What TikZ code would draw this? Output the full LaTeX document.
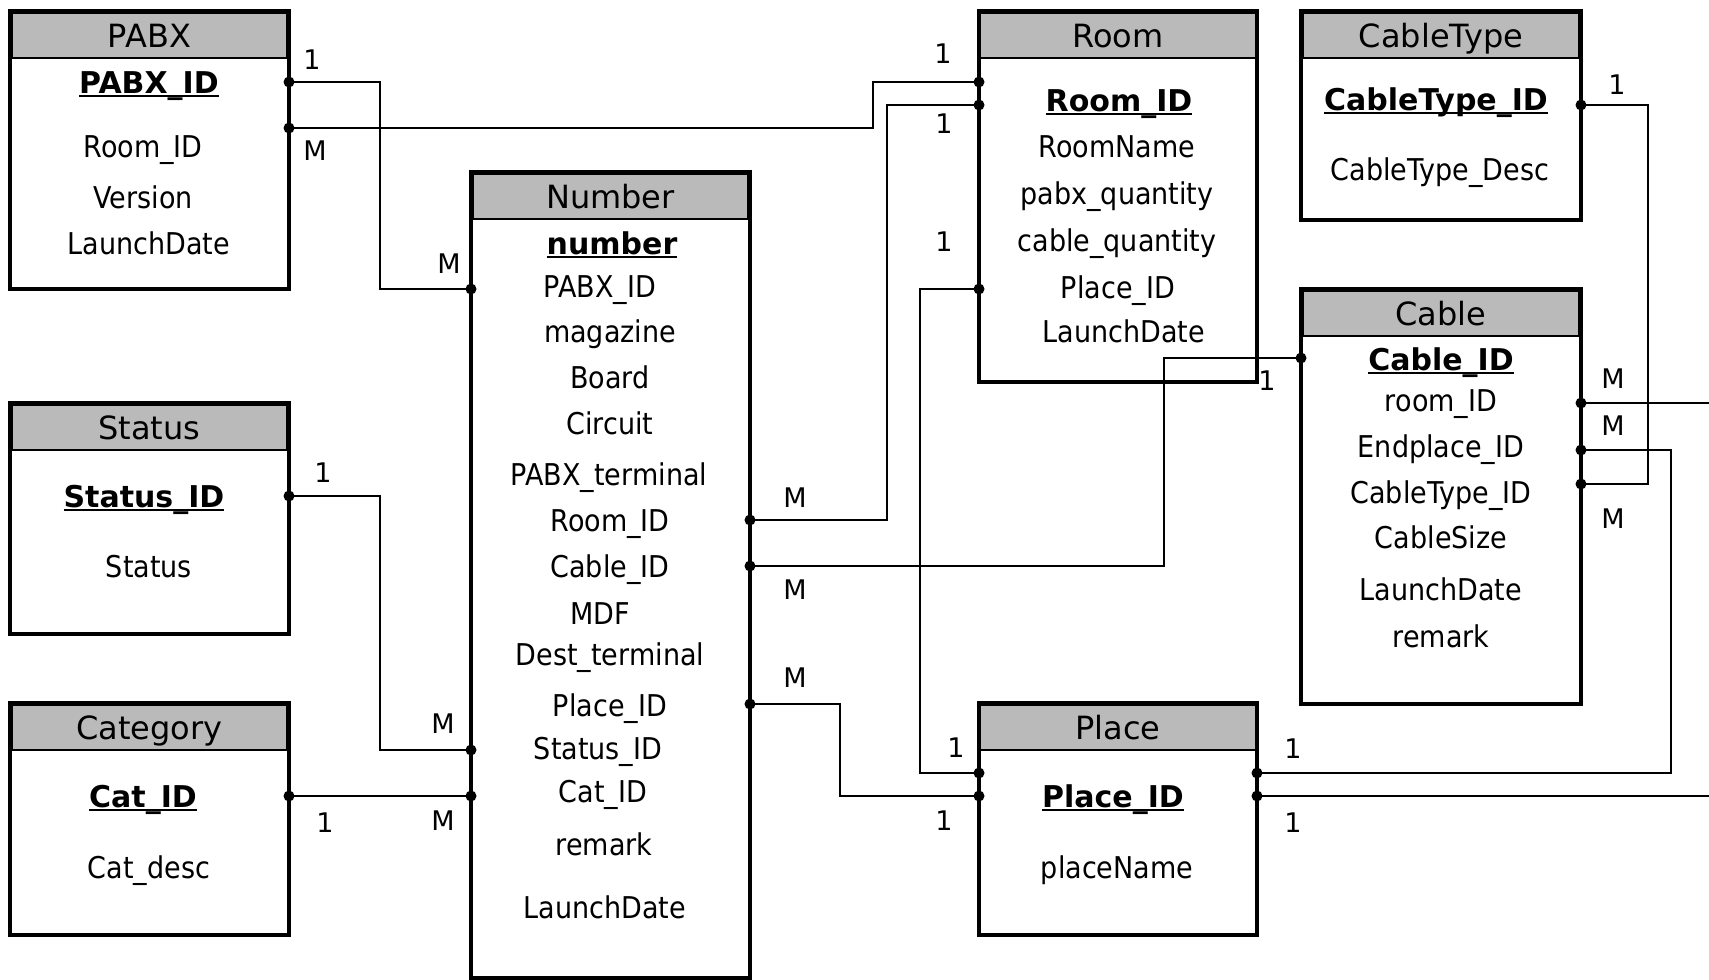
\documentclass[tikz,border=0pt]{standalone}
\usepackage{fontspec}
\setmainfont{DejaVu Sans}[FakeStretch=0.9]
\newfontfamily\keyfont{DejaVu Sans}
\usepackage{xcolor}
\definecolor{hdrgray}{RGB}{186,186,186}
\newcommand{\keyul}[1]{\setbox0=\hbox{#1}\rlap{\rule[-4pt]{\wd0}{2pt}}\box0}

\begin{document}
\begin{tikzpicture}[x=1pt,y=-1pt,
    tbl/.style={draw, line width=4pt, outer sep=0pt, inner sep=0pt},
    hdr/.style={anchor=north, fill=hdrgray, draw, line width=1.5pt, outer sep=0pt, inner sep=0pt,
        minimum width=275pt, minimum height=45pt, text height=23pt, text depth=0pt,
        font=\keyfont\fontsize{32pt}{38pt}\selectfont},
    fld/.style={inner sep=0pt, text height=22pt, text depth=0pt, font=\fontsize{30pt}{36pt}\selectfont},
    key/.style={fld, font=\keyfont\bfseries\fontsize{30pt}{36pt}\selectfont},
    card/.style={inner sep=0pt, text height=20pt, text depth=0pt, font=\keyfont\fontsize{27pt}{32pt}\selectfont},
    link/.style={line width=1.5pt}]
    \useasboundingbox (0,0) rectangle (1709,980);

    % PABX
    \node[tbl, minimum width=279pt, minimum height=278pt] (pabx) at (149.5,150) {};
    \node[hdr] (pabx-h) at ([yshift=-2pt]pabx.north) {PABX};
    \node[key] (pabx-k) at (149,82) {\keyul{PABX\_ID}};
    \node[fld] (pabx-f1) at (143,146) {Room\_ID};
    \node[fld] (pabx-f2) at (143,197) {Version};
    \node[fld] (pabx-f3) at (149,243) {LaunchDate};

    % Status
    \node[tbl, minimum width=279pt, minimum height=231pt] (status) at (149.5,518.5) {};
    \node[hdr] (status-h) at ([yshift=-2pt]status.north) {Status};
    \node[key] (status-k) at (144,496) {\keyul{Status\_ID}};
    \node[fld] (status-f1) at (149,566) {Status};

    % Category
    \node[tbl, minimum width=279pt, minimum height=232pt] (cat) at (149.5,819) {};
    \node[hdr] (cat-h) at ([yshift=-2pt]cat.north) {Category};
    \node[key] (cat-k) at (143,796) {\keyul{Cat\_ID}};
    \node[fld] (cat-f1) at (149,867) {Cat\_desc};

    % Number
    \node[tbl, minimum width=279pt, minimum height=806pt] (num) at (610.5,575) {};
    \node[hdr] (num-h) at ([yshift=-2pt]num.north) {Number};
    \node[key] (num-k) at (612,243) {\keyul{number}};
    \node[fld] (num-f1) at (600,286) {PABX\_ID};
    \node[fld] (num-f2) at (610,331) {magazine};
    \node[fld] (num-f3) at (610,377) {Board};
    \node[fld] (num-f4) at (610,423) {Circuit};
    \node[fld] (num-f5) at (609,474) {PABX\_terminal};
    \node[fld] (num-f6) at (610,520) {Room\_ID};
    \node[fld] (num-f7) at (610,566) {Cable\_ID};
    \node[fld] (num-f8) at (600,613) {MDF};
    \node[fld] (num-f9) at (610,654) {Dest\_terminal};
    \node[fld] (num-f10) at (610,705) {Place\_ID};
    \node[fld] (num-f11) at (598,748) {Status\_ID};
    \node[fld] (num-f12) at (603,791) {Cat\_ID};
    \node[fld] (num-f13) at (604,844) {remark};
    \node[fld] (num-f14) at (605,907) {LaunchDate};

    % Room
    \node[tbl, minimum width=278pt, minimum height=371pt] (room) at (1118,196.5) {};
    \node[hdr] (room-h) at ([yshift=-2pt]room.north) {Room};
    \node[key] (room-k) at (1119,100) {\keyul{Room\_ID}};
    \node[fld] (room-f1) at (1117,146) {RoomName};
    \node[fld] (room-f2) at (1117,193) {pabx\_quantity};
    \node[fld] (room-f3) at (1117,240) {cable\_quantity};
    \node[fld] (room-f4) at (1118,287) {Place\_ID};
    \node[fld] (room-f5) at (1124,331) {LaunchDate};

    % CableType
    \node[tbl, minimum width=280pt, minimum height=209pt] (ctype) at (1441,115.5) {};
    \node[hdr] (ctype-h) at ([yshift=-2pt]ctype.north) {CableType};
    \node[key] (ctype-k) at (1436,99) {\keyul{CableType\_ID}};
    \node[fld] (ctype-f1) at (1440,169) {CableType\_Desc};

    % Cable
    \node[tbl, minimum width=280pt, minimum height=415pt] (cable) at (1441,496.5) {};
    \node[hdr] (cable-h) at ([yshift=-2pt]cable.north) {Cable};
    \node[key] (cable-k) at (1441,359) {\keyul{Cable\_ID}};
    \node[fld] (cable-f1) at (1441,400) {room\_ID};
    \node[fld] (cable-f2) at (1441,446) {Endplace\_ID};
    \node[fld] (cable-f3) at (1441,492) {CableType\_ID};
    \node[fld] (cable-f4) at (1441,537) {CableSize};
    \node[fld] (cable-f5) at (1441,589) {LaunchDate};
    \node[fld] (cable-f6) at (1441,636) {remark};

    % Place
    \node[tbl, minimum width=278pt, minimum height=232pt] (place) at (1118,819) {};
    \node[hdr] (place-h) at ([yshift=-2pt]place.north) {Place};
    \node[key] (place-k) at (1113,796) {\keyul{Place\_ID}};
    \node[fld] (place-f1) at (1117,867) {placeName};

    % ports
    \coordinate (pabx-p1) at (289,82);
    \coordinate (pabx-p2) at (289,128);
    \coordinate (status-p) at (289,496);
    \coordinate (cat-p) at (289,796);
    \coordinate (num-p1) at (471,289);
    \coordinate (num-p2) at (750,520);
    \coordinate (num-p3) at (750,566);
    \coordinate (num-p4) at (750,704);
    \coordinate (num-p5) at (471,750);
    \coordinate (num-p6) at (471,796);
    \coordinate (room-p1) at (979,82);
    \coordinate (room-p2) at (979,105);
    \coordinate (room-p3) at (979,289);
    \coordinate (ctype-p) at (1581,105);
    \coordinate (cable-p0) at (1301,358);
    \coordinate (cable-p1) at (1581,403);
    \coordinate (cable-p2) at (1581,450);
    \coordinate (cable-p3) at (1581,484);
    \coordinate (place-l1) at (979,773);
    \coordinate (place-l2) at (979,796);
    \coordinate (place-r1) at (1257,773);
    \coordinate (place-r2) at (1257,796);
    \coordinate (out1) at (1709,403);
    \coordinate (out2) at (1709,796);

    % links
    \draw[link] (pabx-p1) -- ++(91,0) |- (num-p1);
    \draw[link] (room-p1) -- ++(-106,0) |- (pabx-p2);
    \draw[link] (room-p2) -- ++(-92,0) |- (num-p2);
    \draw[link] (cable-p0) -- ++(-137,0) |- (num-p3);
    \draw[link] (num-p4) -- ++(90,0) |- (place-l2);
    \draw[link] (room-p3) -- ++(-59,0) |- (place-l1);
    \draw[link] (status-p) -- ++(91,0) |- (num-p5);
    \draw[link] (cat-p) -- (num-p6);
    \draw[link] (ctype-p) -- ++(67,0) |- (cable-p3);
    \draw[link] (cable-p1) -- (out1);
    \draw[link] (cable-p2) -- ++(90,0) |- (place-r1);
    \draw[link] (place-r2) -- (out2);

    \foreach \p in {pabx-p1,pabx-p2,status-p,cat-p,num-p1,num-p2,num-p3,num-p4,num-p5,num-p6,
        room-p1,room-p2,room-p3,ctype-p,cable-p0,cable-p1,cable-p2,cable-p3,
        place-l1,place-l2,place-r1,place-r2}
        \fill (\p) circle[radius=5.5pt];

    % cardinalities
    \node[card] (c1) at (312,59) {1};
    \node[card] (c2) at (315,150) {M};
    \node[card] (c3) at (449,263) {M};
    \node[card] (c4) at (943,53) {1};
    \node[card] (c5) at (944,123) {1};
    \node[card] (c6) at (944,241) {1};
    \node[card] (c7) at (795,497) {M};
    \node[card] (c8) at (795,589) {M};
    \node[card] (c9) at (795,677) {M};
    \node[card] (c10) at (1267,380) {1};
    \node[card] (c11) at (1617,84) {1};
    \node[card] (c12) at (1613,378) {M};
    \node[card] (c13) at (1613,425) {M};
    \node[card] (c14) at (1613,518) {M};
    \node[card] (c15) at (323,472) {1};
    \node[card] (c16) at (443,723) {M};
    \node[card] (c17) at (325,822) {1};
    \node[card] (c18) at (443,820) {M};
    \node[card] (c19) at (956,747) {1};
    \node[card] (c20) at (944,820) {1};
    \node[card] (c21) at (1293,748) {1};
    \node[card] (c22) at (1293,822) {1};
\end{tikzpicture}
\end{document}
